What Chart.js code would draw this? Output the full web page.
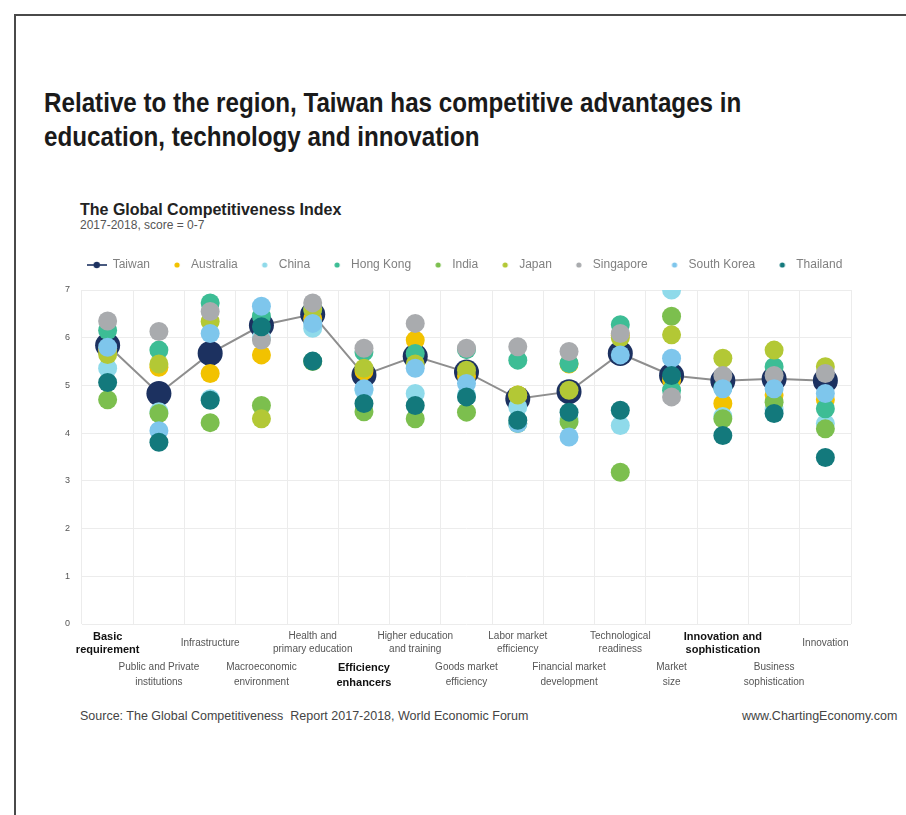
<!DOCTYPE html>
<html>
<head>
<meta charset="utf-8">
<script src="https://cdn.jsdelivr.net/npm/chart.js@4.4.1/dist/chart.umd.min.js"></script>
<style>
  body { margin: 0; background: #fff; width: 906px; height: 815px; overflow: hidden; position: relative; font-family: 'Liberation Sans', Arial, sans-serif; }
  .frame { position: absolute; left: 14px; top: 14px; width: 900px; height: 810px; border-left: 2px solid #4a4a4a; border-top: 2px solid #4a4a4a; }
  .headline { position: absolute; left: 44px; top: 86px; margin: 0; font: bold 28px/34px 'Liberation Sans', Arial, sans-serif; color: #1a1a1a; white-space: nowrap; transform: scaleX(0.864); transform-origin: 0 0; }
  .title { position: absolute; left: 80px; top: 201px; font: bold 16px 'Liberation Sans', Arial, sans-serif; color: #222; }
  .subtitle { position: absolute; left: 80px; top: 218px; font: 12px 'Liberation Sans', Arial, sans-serif; color: #555; }
  .source { position: absolute; left: 80px; top: 709px; font: 12.5px 'Liberation Sans', Arial, sans-serif; color: #444; }
  .site { position: absolute; left: 742px; top: 709px; font: 12.5px 'Liberation Sans', Arial, sans-serif; color: #444; white-space: nowrap; }
  #chart { position: absolute; left: 58px; top: 244px; }
</style>
</head>
<body>
<div class="frame"></div>
<h1 class="headline">Relative to the region, Taiwan has competitive advantages in<br>education, technology and innovation</h1>
<div class="title">The Global Competitiveness Index</div>
<div class="subtitle">2017-2018, score = 0-7</div>
<canvas id="chart" width="822" height="450"></canvas>
<div class="source">Source: The Global Competitiveness&nbsp; Report 2017-2018, World Economic Forum</div>
<div class="site">www.ChartingEconomy.com</div>
<script>
// pillars of the index, in report order
const categories = [
  ['Basic', 'requirement'],
  ['Public and Private', 'institutions'],
  ['Infrastructure'],
  ['Macroeconomic', 'environment'],
  ['Health and', 'primary education'],
  ['Efficiency', 'enhancers'],
  ['Higher education', 'and training'],
  ['Goods market', 'efficiency'],
  ['Labor market', 'efficiency'],
  ['Financial market', 'development'],
  ['Technological', 'readiness'],
  ['Market', 'size'],
  ['Innovation and', 'sophistication'],
  ['Business', 'sophistication'],
  ['Innovation']
];
// sub-index headers are printed in bold
const groupHeads = [0, 5, 12];

const yTicks = [0, 1, 2, 3, 4, 5, 6, 7];

const taiwan     = [5.84, 4.83, 5.67, 6.26, 6.49, 5.22, 5.61, 5.28, 4.72, 4.87, 5.67, 5.21, 5.10, 5.14, 5.10];
const australia  = [5.75, 5.38, 5.25, 5.64, 6.40, 5.30, 5.95, 5.20, 4.80, 5.45, 6.05, 5.11, 4.62, 4.80, 4.70];
const china      = [5.36, 4.45, 4.72, 6.00, 6.20, 4.90, 4.83, 4.80, 4.55, 4.30, 4.16, 7.00, 4.35, 4.50, 4.20];
const hongKong   = [6.15, 5.74, 6.73, 6.45, 6.60, 5.70, 5.67, 5.75, 5.53, 5.46, 6.27, 4.90, 4.95, 5.39, 4.51];
const india      = [4.70, 4.41, 4.22, 4.58, 5.50, 4.45, 4.30, 4.44, 4.20, 4.24, 3.18, 6.45, 4.30, 4.65, 4.09];
const japan      = [5.65, 5.45, 6.34, 4.30, 6.60, 5.36, 5.45, 5.32, 4.80, 4.90, 6.00, 6.06, 5.57, 5.74, 5.39];
const singapore  = [6.35, 6.13, 6.55, 5.95, 6.73, 5.78, 6.30, 5.78, 5.81, 5.71, 6.09, 4.76, 5.21, 5.21, 5.25];
const southKorea = [5.80, 4.05, 6.09, 6.66, 6.30, 4.93, 5.36, 5.04, 4.20, 3.92, 5.64, 5.57, 4.93, 4.93, 4.83];
const thailand   = [5.06, 3.81, 4.69, 6.23, 5.51, 4.62, 4.58, 4.76, 4.27, 4.44, 4.48, 5.21, 3.95, 4.41, 3.49];

const others = [
  { label: 'Australia',   data: australia,  color: '#f2c200' },
  { label: 'China',       data: china,      color: '#8fdaea' },
  { label: 'Hong Kong',   data: hongKong,   color: '#3dbd95' },
  { label: 'India',       data: india,      color: '#7cbf4e' },
  { label: 'Japan',       data: japan,      color: '#b3c835' },
  { label: 'Singapore',   data: singapore,  color: '#a9abae' },
  { label: 'South Korea', data: southKorea, color: '#7ec6ec' },
  { label: 'Thailand',    data: thailand,   color: '#13797c' }
];

const navy = '#1c3160';
const fontFamily = "'Liberation Sans', Arial, sans-serif";

// small legend icons: plain dot, or line with dot for Taiwan
function legendIcon(color, withLine) {
  const c = document.createElement('canvas');
  c.width = 20; c.height = 8;
  const g = c.getContext('2d');
  g.fillStyle = color;
  if (withLine) {
    g.strokeStyle = color; g.lineWidth = 1.6;
    g.beginPath(); g.moveTo(0, 4); g.lineTo(20, 4); g.stroke();
    g.beginPath(); g.arc(10, 4, 3.2, 0, Math.PI * 2); g.fill();
  } else {
    g.beginPath(); g.arc(12, 4, 2.6, 0, Math.PI * 2); g.fill();
  }
  return c;
}

const datasets = [{
  label: 'Taiwan',
  data: taiwan,
  borderColor: '#8e8e8e',
  borderWidth: 2,
  pointRadius: 12.5,
  pointBackgroundColor: navy,
  pointBorderWidth: 0,
  legendColor: navy,
  order: others.length + 1
}];
others.forEach(function(o, i) {
  datasets.push({
    label: o.label,
    data: o.data,
    showLine: false,
    pointRadius: 9.5,
    pointBackgroundColor: o.color,
    pointBorderWidth: 0,
    borderColor: o.color,
    legendColor: o.color,
    order: others.length - i
  });
});

// extra room between the legend and the plot, and legend nudged right
const legendGap = {
  id: 'legendGap',
  beforeInit(chart) {
    const fit = chart.legend.fit;
    chart.legend.fit = function() {
      fit.bind(chart.legend)();
      this.height += 9;
    };
  },
  afterLayout(chart) {
    chart.legend.left += 10;
    chart.legend.right += 10;
  }
};

const ctx = document.getElementById('chart').getContext('2d');
new Chart(ctx, {
  type: 'line',
  data: {
    labels: categories,
    datasets: datasets
  },
  plugins: [legendGap],
  options: {
    responsive: false,
    animation: false,
    layout: { padding: { left: 0, right: 29, top: 0, bottom: 0 } },
    plugins: {
      tooltip: { enabled: false },
      legend: {
        position: 'top',
        labels: {
          usePointStyle: true,
          pointStyleWidth: 20,
          boxHeight: 10,
          padding: 15,
          color: '#808080',
          font: { family: fontFamily, size: 12 },
          sort: (a, b) => a.datasetIndex - b.datasetIndex,
          generateLabels(chart) {
            return Chart.defaults.plugins.legend.labels.generateLabels(chart).map(function(item) {
              const ds = chart.data.datasets[item.datasetIndex];
              item.pointStyle = legendIcon(ds.legendColor, item.datasetIndex === 0);
              return item;
            });
          }
        }
      }
    },
    scales: {
      x: {
        offset: true,
        afterFit(scale) { scale.height = 70; },
        grid: { offset: true, color: '#ececec', drawTicks: false },
        border: { display: false },
        ticks: {
          autoSkip: false,
          maxRotation: 0,
          minRotation: 0,
          padding: 6,
          color: function(c) { return groupHeads.includes(c.index) ? '#111' : '#555'; },
          font: function(c) {
            const lines = categories[c.index] || [];
            const bold = groupHeads.includes(c.index);
            let lh = c.index % 2 ? 15 : 13;
            if (c.index % 2 === 0 && lines.length === 1) lh = 26;
            return { family: fontFamily, size: bold ? 11 : 10, weight: bold ? 'bold' : 'normal', lineHeight: lh + 'px' };
          },
          callback: function(value, index) {
            const lines = categories[index];
            // every other pillar sits on a second row
            return index % 2 ? ['', ''].concat(lines) : lines;
          }
        }
      },
      y: {
        min: yTicks[0],
        max: yTicks[yTicks.length - 1],
        afterFit(scale) { scale.width = 24; },
        grid: { color: '#ececec', drawTicks: false },
        border: { display: false },
        ticks: {
          stepSize: 1,
          padding: 12,
          color: '#555',
          font: { family: fontFamily, size: 9 }
        }
      }
    }
  }
});
</script>
</body>
</html>
